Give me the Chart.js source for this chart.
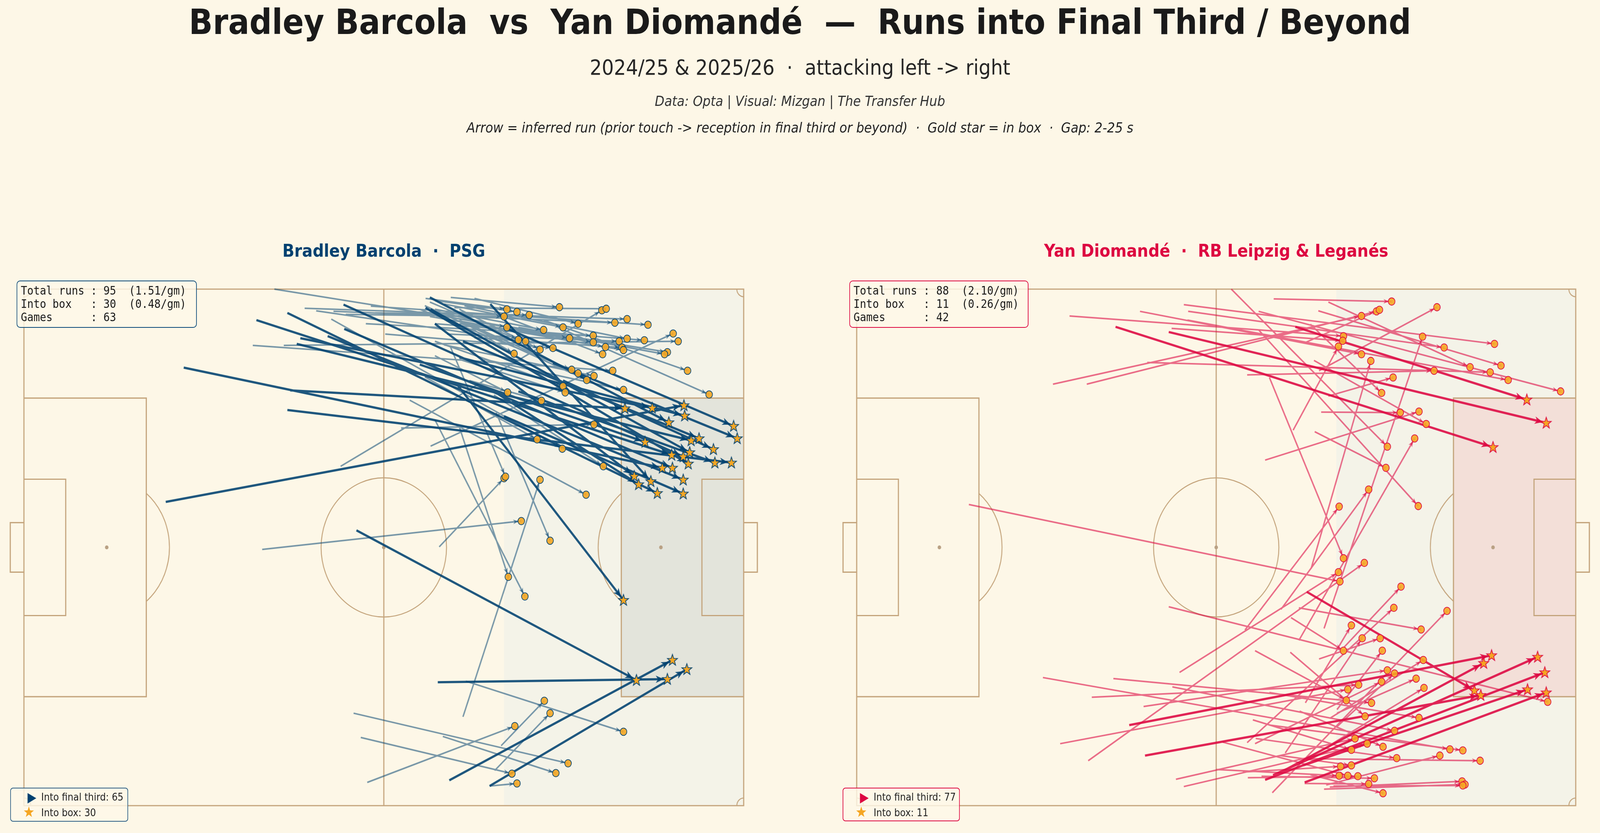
<!DOCTYPE html>
<html>
<head>
<meta charset="utf-8">
<script src="https://cdn.jsdelivr.net/npm/chart.js@4.4.1/dist/chart.umd.min.js"></script>
<style>
  html, body { margin: 0; padding: 0; background: #fdf7e7; overflow: hidden; }
  #stage { width: 4544px; height: 2132px; position: absolute; left: 0; top: 0; transform-origin: 0 0; font-family: "DejaVu Sans", sans-serif; }
  .t { position: absolute; left: 0; width: 4544px; text-align: center; white-space: pre; line-height: 1; transform: translateY(-50%); }
  .panel { position: absolute; white-space: pre; line-height: 1; font-weight: bold; font-size: 44.5px; transform: translate(-50%, -50%); }
  canvas { position: absolute; }
  .info { position: absolute; box-sizing: border-box; border: 2.5px solid; border-radius: 10px; background: rgba(254, 248, 232, 0.82);
          font: 30px "DejaVu Sans Mono", monospace; line-height: 34px; white-space: pre; color: #1a1a1a; padding: 7px 10px; }
  .legend { position: absolute; box-sizing: border-box; border: 2px solid; border-radius: 8px; background: rgba(254, 248, 232, 0.82);
            font-size: 26px; color: #222; }
  .legend div { position: absolute; left: 86px; line-height: 1; transform: translateY(-50%); white-space: pre; }
  .legend svg { position: absolute; }
</style>
</head>
<body>
<div id="stage">
<div class="t" style="top:56px;font-size:89px;font-weight:bold;color:#1a1a1a;">Bradley Barcola  vs  Yan Diomandé  —  Runs into Final Third / Beyond</div>
<div class="t" style="top:173px;font-size:54px;color:#262626;">2024/25 &amp; 2025/26  ·  attacking left -&gt; right</div>
<div class="t" style="top:259px;font-size:35.5px;font-style:italic;color:#333;">Data: Opta | Visual: Mizgan | The Transfer Hub</div>
<div class="t" style="top:327px;font-size:35.5px;font-style:italic;color:#222;">Arrow = inferred run (prior touch -&gt; reception in final third or beyond)  ·  Gold star = in box  ·  Gap: 2-25 s</div>

<div class="panel" style="left:1090px;top:642px;color:#004170;">Bradley Barcola  ·  PSG</div>
<div class="panel" style="left:3454px;top:642px;color:#dd0741;">Yan Diomandé  ·  RB Leipzig &amp; Leganés</div>

<canvas id="left" width="2230" height="1442" style="left:0px;top:690px;width:2230px;height:1442px;"></canvas>
<canvas id="right" width="2272" height="1442" style="left:2272px;top:690px;width:2272px;height:1442px;"></canvas>

<div class="info" id="infoL" style="left:47px;top:718px;width:512px;height:121px;border-color:#0b4a7a;"></div>
<div class="info" id="infoR" style="left:2412px;top:718px;width:509px;height:121px;border-color:#dd0741;"></div>

<div class="legend" id="legL" style="left:29px;top:2016px;width:335px;height:87px;border-color:#2d5f86;"></div>
<div class="legend" id="legR" style="left:2393px;top:2016px;width:333px;height:86px;border-color:#dd0741;"></div>
</div>

<script>
// the design is laid out at 4544x2132 and stretched onto whatever window we get
const stage = document.getElementById('stage');
stage.style.transform = `scale(${window.innerWidth / 4544}, ${window.innerHeight / 2132})`;

// runs as [startX, startY, endX, endY] in Opta pitch units (0-100), y measured from the top touchline
const barcolaBoxRuns = [
  [37.0, 19.6, 83.5, 23.1], [38.4, 9.5, 87.3, 23.0], [19.7, 41.2, 91.7, 22.5], [60.5, 13.2, 91.8, 24.5],
  [56.4, 1.6, 89.6, 25.8], [66.7, 7.4, 98.6, 26.5], [73.5, 14.3, 99.1, 28.9], [55.0, 14.6, 86.3, 29.6],
  [37.9, 10.6, 92.7, 29.3], [61.0, 10.1, 93.8, 28.9], [74.9, 17.7, 95.8, 31.0], [32.3, 6.0, 90.0, 32.1],
  [44.4, 3.0, 91.6, 32.4], [56.5, 3.9, 92.5, 31.6], [68.7, 19.8, 96.0, 33.6], [36.6, 23.4, 98.3, 33.6],
  [55.8, 3.6, 92.3, 33.8], [22.2, 15.2, 88.7, 34.6], [44.5, 7.7, 90.1, 34.6], [57.1, 6.7, 84.8, 36.2],
  [64.8, 2.9, 87.1, 37.2], [65.3, 19.8, 85.4, 37.8], [42.2, 9.1, 91.6, 36.9], [36.6, 4.6, 88.0, 39.5],
  [66.7, 24.6, 91.6, 39.6], [60.2, 18.5, 83.3, 60.2], [46.2, 46.7, 85.1, 75.7], [59.1, 95.1, 90.1, 71.8],
  [57.5, 76.1, 89.4, 75.5], [64.7, 96.2, 92.1, 73.6]
];

const barcolaThirdRuns = [
  [55.8, 1.8, 67.1, 3.9], [57.1, 2.2, 68.5, 4.4], [48.8, 4.6, 70.2, 5.0], [44.7, 4.9, 66.7, 5.3],
  [59.3, 1.6, 74.4, 3.5], [44.0, 34.3, 80.3, 4.1], [59.8, 3.6, 80.9, 3.8], [39.0, 3.7, 83.8, 5.8],
  [43.0, 4.3, 82.1, 6.5], [48.2, 3.3, 86.7, 6.9], [55.7, 3.9, 67.1, 7.4], [57.1, 3.9, 72.2, 7.9],
  [58.4, 2.9, 74.9, 7.4], [56.4, 2.5, 68.7, 9.8], [40.6, 4.2, 69.7, 10.1], [60.5, 6.7, 75.8, 9.5],
  [47.5, 6.7, 79.1, 9.0], [55.7, 4.6, 79.1, 10.3], [58.8, 8.7, 82.7, 10.1], [61.2, 3.2, 83.8, 9.6],
  [57.1, 6.7, 86.2, 9.9], [56.5, 30.4, 90.2, 8.6], [36.1, 10.9, 90.9, 10.1], [59.8, 6.0, 80.8, 11.2],
  [62.6, 9.4, 83.1, 11.3], [56.4, 5.3, 83.3, 11.8], [60.5, 3.9, 71.7, 11.7], [50.2, 8.7, 73.5, 11.4],
  [62.6, 8.0, 68.1, 12.5], [65.3, 4.6, 80.4, 12.6], [34.8, 0.0, 89.4, 12.2], [68.7, 7.4, 89.0, 12.6],
  [31.8, 10.9, 81.8, 15.8], [55.0, 3.9, 76.1, 15.6], [60.5, 6.0, 77.0, 16.3], [58.4, 10.8, 79.2, 16.8],
  [55.7, 3.2, 78.2, 17.6], [72.2, 6.0, 92.2, 15.8], [57.1, 10.1, 74.9, 18.8], [60.5, 13.6, 75.2, 20.0],
  [57.1, 12.9, 67.2, 20.0], [61.9, 17.7, 71.9, 21.6], [63.9, 13.6, 83.3, 19.5], [74.2, 7.4, 95.2, 20.4],
  [52.4, 26.9, 79.2, 26.2], [55.7, 17.0, 71.3, 29.1], [42.7, 5.8, 74.8, 30.9], [65.3, 20.5, 80.5, 34.3],
  [57.7, 49.9, 66.7, 36.6], [59.2, 11.0, 66.9, 36.3], [61.0, 82.8, 71.7, 36.9], [53.6, 21.5, 78.1, 39.8],
  [33.1, 50.4, 69.1, 44.9], [65.6, 23.9, 73.1, 48.7], [60.5, 26.7, 67.3, 55.7], [57.1, 25.3, 69.6, 59.5],
  [66.3, 88.4, 72.3, 79.7], [65.4, 93.2, 73.1, 82.1], [47.7, 95.5, 68.2, 84.6], [61.4, 75.9, 83.3, 85.7],
  [45.8, 82.1, 75.6, 91.8], [58.2, 86.6, 73.9, 93.7], [46.8, 86.8, 67.8, 93.8], [64.7, 96.2, 68.5, 95.7],
  [62.6, 1.8, 77.0, 6.7]
];

const diomandeBoxRuns = [
  [61.0, 7.3, 93.2, 21.4], [43.4, 8.3, 95.9, 25.9], [36.0, 7.3, 88.5, 30.6], [37.9, 84.4, 88.3, 70.9],
  [40.1, 90.3, 86.8, 78.6], [62.6, 58.6, 85.9, 77.7], [58.9, 93.6, 87.2, 72.4], [57.9, 94.1, 94.7, 71.2],
  [56.8, 95.0, 95.7, 74.2], [62.3, 95.5, 95.9, 78.1], [62.1, 92.2, 93.3, 77.5]
];

const diomandeThirdRuns = [
  [58.0, 1.9, 74.4, 2.4], [64.3, 15.8, 80.7, 3.5], [27.3, 18.4, 70.2, 5.2], [32.0, 18.4, 72.3, 4.3],
  [62.3, 10.4, 72.7, 4.0], [29.6, 5.2, 67.7, 9.1], [43.8, 7.6, 67.6, 10.0], [60.7, 27.3, 67.0, 11.1],
  [39.4, 4.3, 70.2, 12.6], [45.5, 3.0, 88.7, 10.6], [46.1, 4.3, 81.7, 11.3], [46.0, 6.0, 90.6, 17.6],
  [55.9, 4.3, 97.9, 19.8], [65.6, 2.5, 85.3, 15.1], [64.2, 4.2, 89.6, 14.8], [40.4, 14.2, 88.1, 16.1],
  [54.3, 16.6, 80.3, 15.8], [63.1, 6.8, 73.0, 20.1], [63.6, 13.8, 79.2, 26.1], [52.1, 0.0, 73.8, 30.5],
  [55.9, 7.9, 78.1, 42.0], [65.6, 20.7, 74.6, 17.1], [56.8, 33.1, 78.2, 23.7], [64.6, 23.8, 75.6, 23.9],
  [63.7, 27.6, 73.6, 34.6], [63.2, 54.1, 71.5, 13.9], [65.0, 65.7, 78.7, 9.2], [61.5, 68.0, 77.6, 28.9],
  [59.0, 62.0, 71.2, 38.8], [54.0, 66.0, 67.1, 42.1], [57.4, 17.1, 67.7, 52.1],
  [32.2, 91.3, 70.6, 53.0], [44.9, 74.2, 67.0, 54.8], [15.6, 41.7, 67.2, 56.6], [67.8, 69.3, 75.7, 57.6],
  [54.3, 87.8, 74.7, 61.7], [57.8, 97.5, 82.1, 62.3], [61.5, 61.7, 78.5, 65.9], [62.4, 80.1, 68.8, 65.1],
  [64.3, 71.6, 72.8, 67.6], [59.6, 89.8, 70.3, 67.6], [43.4, 61.5, 96.1, 79.9], [60.4, 63.6, 67.7, 70.0],
  [66.8, 81.4, 73.1, 70.0], [65.8, 83.1, 78.8, 71.8], [39.9, 80.8, 73.8, 73.8], [66.8, 84.7, 74.8, 74.4],
  [55.4, 88.0, 73.0, 76.0], [66.8, 82.1, 77.8, 75.4], [65.8, 88.3, 78.9, 77.2], [32.7, 79.0, 69.8, 76.6],
  [28.3, 88.0, 68.3, 77.5], [55.4, 70.0, 68.1, 79.6], [35.7, 75.4, 71.6, 80.1], [60.3, 70.3, 70.7, 82.7],
  [57.4, 78.1, 78.2, 83.0], [43.9, 77.0, 74.8, 85.5], [44.4, 94.9, 69.3, 87.0], [45.5, 96.3, 71.0, 88.0],
  [55.1, 83.4, 68.8, 89.2], [61.6, 81.7, 73.2, 88.6], [25.9, 75.2, 82.5, 89.1], [57.4, 84.4, 84.3, 89.3],
  [55.5, 87.0, 75.1, 90.8], [65.3, 96.0, 81.1, 90.3], [62.3, 90.9, 86.7, 91.3], [53.7, 93.5, 67.3, 92.4],
  [58.9, 90.3, 68.8, 92.2], [50.9, 87.7, 68.3, 94.2], [54.4, 94.6, 69.7, 94.3], [56.3, 94.3, 72.0, 94.7],
  [62.3, 95.7, 71.2, 95.8], [65.8, 96.4, 84.2, 95.3], [65.0, 96.8, 84.6, 95.9], [66.3, 96.2, 84.3, 96.1],
  [63.1, 94.0, 73.2, 97.6], [50.0, 93.0, 67.1, 94.2]
];

const gamesPlayed = [63, 42];

const NAVY = '#004170';
const RED = '#dd0741';
const GOLD = '#f5a623';
const circleR = 9.15 / 105 * 100;

function rgba(hex, a) {
  const n = parseInt(hex.slice(1), 16);
  return `rgba(${n >> 16},${(n >> 8) & 255},${n & 255},${a})`;
}

function starImage(edge) {
  const c = document.createElement('canvas');
  c.width = 34; c.height = 34;
  const g = c.getContext('2d');
  g.beginPath();
  for (let i = 0; i < 10; i++) {
    const r = i % 2 === 0 ? 15.2 : 6.1;
    const a = -Math.PI / 2 + i * Math.PI / 5;
    g.lineTo(17 + r * Math.cos(a), 17.8 + r * Math.sin(a));
  }
  g.closePath();
  g.fillStyle = GOLD;
  g.fill();
  g.lineWidth = 1.9;
  g.strokeStyle = edge;
  g.stroke();
  return c;
}

function segments(runs) {
  const pts = [];
  runs.forEach(r => pts.push({ x: r[0], y: r[1] }, { x: r[2], y: r[3] }, { x: r[2], y: null }));
  return pts;
}

const pitchPlugin = {
  id: 'pitch',
  beforeDatasetsDraw(chart, args, o) {
    const { ctx, scales: { x, y } } = chart;
    const X = v => x.getPixelForValue(v), Y = v => y.getPixelForValue(v);
    const box = (x0, y0, x1, y1) => ctx.rect(X(x0), Y(y0), X(x1) - X(x0), Y(y1) - Y(y0));
    ctx.save();
    ctx.fillStyle = o.thirdFill;
    ctx.fillRect(X(66.7), Y(0), X(100) - X(66.7), Y(100) - Y(0));
    ctx.fillStyle = o.boxFill;
    ctx.fillRect(X(83), Y(21.1), X(100) - X(83), Y(78.9) - Y(21.1));

    ctx.strokeStyle = o.line;
    ctx.lineWidth = 3.2;
    ctx.beginPath();
    box(0, 0, 100, 100);
    ctx.moveTo(X(50), Y(0)); ctx.lineTo(X(50), Y(100));
    box(0, 21.1, 17, 78.9); box(83, 21.1, 100, 78.9);
    box(0, 36.8, 5.8, 63.2); box(94.2, 36.8, 100, 63.2);
    box(-1.9, 45.2, 0, 54.8); box(100, 45.2, 101.9, 54.8);
    ctx.stroke();

    const r = X(circleR) - X(0);
    ctx.lineWidth = 2.6;
    ctx.beginPath(); ctx.arc(X(50), Y(50), r, 0, 2 * Math.PI); ctx.stroke();
    const th = Math.acos((X(17) - X(11.5)) / r);
    ctx.beginPath(); ctx.arc(X(11.5), Y(50), r, -th, th); ctx.stroke();
    ctx.beginPath(); ctx.arc(X(88.5), Y(50), r, Math.PI - th, Math.PI + th); ctx.stroke();

    const cr = X(1 / 105 * 100) - X(0);
    ctx.beginPath(); ctx.arc(X(0), Y(0), cr, 0, Math.PI / 2); ctx.stroke();
    ctx.beginPath(); ctx.arc(X(100), Y(0), cr, Math.PI / 2, Math.PI); ctx.stroke();
    ctx.beginPath(); ctx.arc(X(0), Y(100), cr, -Math.PI / 2, 0); ctx.stroke();
    ctx.beginPath(); ctx.arc(X(100), Y(100), cr, Math.PI, 1.5 * Math.PI); ctx.stroke();

    ctx.fillStyle = o.spot;
    [[11.5, 50], [50, 50], [88.5, 50]].forEach(p => {
      ctx.beginPath(); ctx.arc(X(p[0]), Y(p[1]), 5, 0, 2 * Math.PI); ctx.fill();
    });
    ctx.restore();
  }
};

// stealth-style heads at the end of every segment, placed from the line's own points
const arrowPlugin = {
  id: 'arrowHeads',
  afterDatasetDraw(chart, args) {
    const ds = chart.data.datasets[args.index];
    if (!ds.head) return;
    const pts = args.meta.data;
    const h = ds.head;
    const ctx = chart.ctx;
    ctx.save();
    ctx.fillStyle = h.color;
    for (let i = 0; i + 1 < pts.length; i += 3) {
      const a = pts[i], b = pts[i + 1];
      const dx = b.x - a.x, dy = b.y - a.y, d = Math.hypot(dx, dy);
      if (!d) continue;
      const ux = dx / d, uy = dy / d;
      const tx = b.x - ux * h.back, ty = b.y - uy * h.back;
      const bx = tx - ux * h.len, by = ty - uy * h.len;
      const nx = tx - ux * h.len * 0.72, ny = ty - uy * h.len * 0.72;
      ctx.beginPath();
      ctx.moveTo(tx, ty);
      ctx.lineTo(bx - uy * h.w / 2, by + ux * h.w / 2);
      ctx.lineTo(nx, ny);
      ctx.lineTo(bx + uy * h.w / 2, by - ux * h.w / 2);
      ctx.closePath();
      ctx.fill();
    }
    ctx.restore();
  }
};

function makePitch(id, color, thirdRuns, boxRuns, boxFill, pad, lightAlpha) {
  const light = rgba(color, lightAlpha);
  const dark = rgba(color, 0.88);
  return new Chart(document.getElementById(id), {
    type: 'scatter',
    data: {
      datasets: [
        {
          type: 'line', data: segments(thirdRuns), borderColor: light, borderWidth: 4,
          pointRadius: 0, spanGaps: false, tension: 0, order: 4, clip: false,
          head: { color: light, len: 15, w: 12, back: 8 }
        },
        {
          type: 'line', data: segments(boxRuns), borderColor: dark, borderWidth: 5.8,
          pointRadius: 0, spanGaps: false, tension: 0, order: 3, clip: false,
          head: { color: dark, len: 23, w: 19, back: 10 }
        },
        {
          data: thirdRuns.map(r => ({ x: r[2], y: r[3] })), pointStyle: 'circle', pointRadius: 9.5,
          backgroundColor: rgba(GOLD, 0.9), borderColor: color, borderWidth: 1.8, order: 2, clip: false
        },
        {
          data: boxRuns.map(r => ({ x: r[2], y: r[3] })), pointStyle: starImage(color), pointRadius: 15,
          order: 1, clip: false
        }
      ]
    },
    options: {
      responsive: false,
      animation: false,
      devicePixelRatio: 1,
      events: [],
      layout: { padding: pad },
      scales: {
        x: { type: 'linear', min: 0, max: 100, display: false },
        y: { type: 'linear', min: 0, max: 100, reverse: true, display: false }
      },
      plugins: {
        legend: { display: false },
        tooltip: { enabled: false },
        pitch: { thirdFill: '#f4f3e8', boxFill: boxFill, line: '#c4a47c', spot: '#b9a184' }
      }
    },
    plugins: [pitchPlugin, arrowPlugin]
  });
}

makePitch('left', NAVY, barcolaThirdRuns, barcolaBoxRuns, '#e3e4db', { left: 68, right: 118, top: 50, bottom: 70 }, 0.52);
makePitch('right', RED, diomandeThirdRuns, diomandeBoxRuns, '#f3dfd8', { left: 161, right: 69, top: 50, bottom: 70 }, 0.58);

function infoText(third, box, games) {
  const total = third.length + box.length;
  const pg = v => (v / games).toFixed(2);
  return `Total runs : ${total}  (${pg(total)}/gm)\nInto box   : ${box.length}  (${pg(box.length)}/gm)\nGames      : ${games}`;
}
document.getElementById('infoL').textContent = infoText(barcolaThirdRuns, barcolaBoxRuns, gamesPlayed[0]);
document.getElementById('infoR').textContent = infoText(diomandeThirdRuns, diomandeBoxRuns, gamesPlayed[1]);

function legendHtml(color, third, box) {
  const star = [];
  for (let i = 0; i < 10; i++) {
    const r = i % 2 === 0 ? 15 : 6;
    const a = -Math.PI / 2 + i * Math.PI / 5;
    star.push((17 + r * Math.cos(a)).toFixed(1) + ',' + (18 + r * Math.sin(a)).toFixed(1));
  }
  return `<svg style="left:37px;top:8px" width="36" height="36"><polygon points="14,4 40,18 14,32" fill="${color}" transform="translate(-3,0) scale(0.95)"/></svg>` +
         `<div style="top:22px">Into final third: ${third.length}</div>` +
         `<svg style="left:34px;top:43px" width="36" height="36"><polygon points="${star.join(' ')}" fill="${GOLD}"/></svg>` +
         `<div style="top:62px">Into box: ${box.length}</div>`;
}
document.getElementById('legL').innerHTML = legendHtml(NAVY, barcolaThirdRuns, barcolaBoxRuns);
document.getElementById('legR').innerHTML = legendHtml(RED, diomandeThirdRuns, diomandeBoxRuns);
</script>
</body>
</html>
